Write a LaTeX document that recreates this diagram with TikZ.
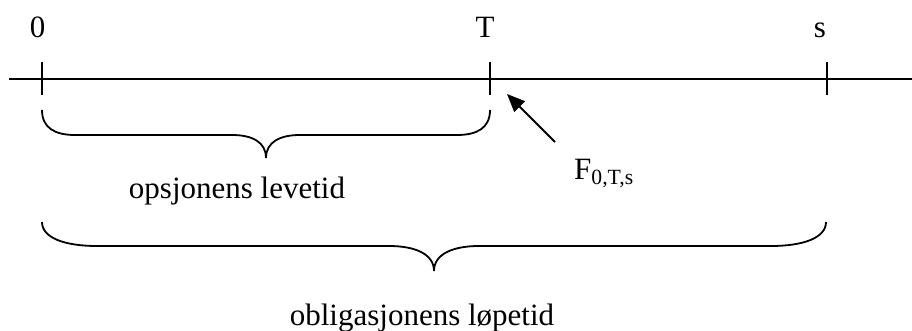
\documentclass[tikz,border=0pt]{standalone}
\usepackage{fontspec}
\setmainfont{Liberation Serif}
\usetikzlibrary{arrows.meta}
\begin{document}
\begin{tikzpicture}[x=1pt,y=-1pt,
  stroke/.style={line width=1.8pt},
  lbl/.style={inner sep=0pt,anchor=base,font=\fontsize{31}{37}\selectfont}]
\useasboundingbox (0,0) rectangle (912,331);
% axis
\coordinate (axL) at (9,79);
\coordinate (axR) at (912,79);
\draw[stroke] (axL) -- (axR);
% ticks
\foreach \n/\x in {a/42,b/490,c/827}{
  \coordinate (\n top) at (\x,62);
  \coordinate (\n bot) at (\x,95);
  \draw[stroke] (\n top) -- (\n bot);
}
% labels on top
\node[lbl] (l0) at (37.5,38) {0};
\node[lbl] (lT) at (485,38) {T};
\node[lbl] (ls) at (820,38) {s};
% small brace
\coordinate (b1L) at (42,110);
\coordinate (b1R) at (490,110);
\coordinate (b1tip) at (266,158);
\draw[stroke] (b1L) .. controls (42,128) and (55,135) .. (75,135) -- (232,135)
  .. controls (252,135) and (266,142) .. (b1tip)
  .. controls (266,142) and (280,135) .. (300,135) -- (457,135)
  .. controls (477,135) and (490,128) .. (b1R);
% large brace
\coordinate (b2L) at (42,222);
\coordinate (b2R) at (826,222);
\coordinate (b2tip) at (434,271);
\draw[stroke] (b2L) .. controls (42,238) and (65,246) .. (97,246) -- (389,246)
  .. controls (415,246) and (434,254) .. (b2tip)
  .. controls (434,254) and (453,246) .. (479,246) -- (771,246)
  .. controls (803,246) and (826,238) .. (b2R);
% labels
\node[lbl] (opt) at (237,198) {opsjonens levetid};
\node[lbl] (obl) at (422,325) {obligasjonens løpetid};
\node[lbl,anchor=base west] (F) at (574,179) {F\textsubscript{0,T,s}};
% arrow
\coordinate (arTail) at (555,142);
\coordinate (arTip) at (507,94);
\draw[stroke,-{Triangle[length=18pt 0 0,width=15pt 0 0]}] (arTail) -- (arTip);
\end{tikzpicture}
\end{document}
